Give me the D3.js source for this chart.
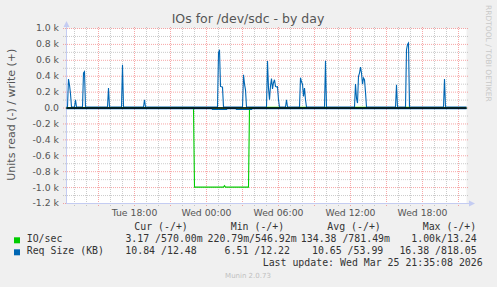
<!DOCTYPE html>
<html>
<head>
<meta charset="utf-8">
<script src="https://cdn.jsdelivr.net/npm/d3@7"></script>
<style>
  body { margin: 0; background: #f0f0f0; }
  svg { display: block; }
</style>
</head>
<body>
<div id="chart"></div>
<script>
// Data (5 minute samples, only the points that matter)
const reqWrite = [
  ["Tue 12:20", 13], ["Tue 12:25", 13], ["Tue 12:30", 365], ["Tue 12:35", 290], ["Tue 12:40", 180], ["Tue 12:45", 13],
  ["Tue 13:00", 13], ["Tue 13:05", 104], ["Tue 13:10", 13],
  ["Tue 13:40", 13], ["Tue 13:45", 440], ["Tue 13:50", 457], ["Tue 13:55", 13],
  ["Tue 15:45", 13], ["Tue 15:50", 252], ["Tue 15:55", 13],
  ["Tue 16:55", 13], ["Tue 17:00", 545], ["Tue 17:05", 13],
  ["Tue 18:45", 13], ["Tue 18:50", 104], ["Tue 18:55", 13],
  ["Wed 00:55", 13], ["Wed 01:00", 690], ["Wed 01:05", 733], ["Wed 01:10", 272], ["Wed 01:15", 268], ["Wed 01:20", 262], ["Wed 01:25", 13],
  ["Wed 03:00", 13], ["Wed 03:05", 419], ["Wed 03:10", 300], ["Wed 03:15", 229], ["Wed 03:20", 13],
  ["Wed 05:00", 13], ["Wed 05:05", 590], ["Wed 05:10", 250], ["Wed 05:15", 104], ["Wed 05:20", 280], ["Wed 05:25", 370],
  ["Wed 05:30", 240], ["Wed 05:35", 320], ["Wed 05:40", 356], ["Wed 05:45", 272], ["Wed 05:50", 265], ["Wed 05:55", 268],
  ["Wed 06:00", 104], ["Wed 06:05", 13],
  ["Wed 06:35", 13], ["Wed 06:40", 104], ["Wed 06:45", 13],
  ["Wed 07:45", 13], ["Wed 07:50", 381], ["Wed 07:55", 330], ["Wed 08:00", 300], ["Wed 08:05", 146], ["Wed 08:10", 252],
  ["Wed 08:15", 104], ["Wed 08:20", 13],
  ["Wed 09:50", 13], ["Wed 09:55", 595], ["Wed 10:00", 13],
  ["Wed 12:20", 13], ["Wed 12:25", 302], ["Wed 12:30", 120], ["Wed 12:35", 63], ["Wed 12:40", 398], ["Wed 12:45", 440],
  ["Wed 12:50", 516], ["Wed 12:55", 440], ["Wed 13:00", 300], ["Wed 13:05", 377], ["Wed 13:10", 356], ["Wed 13:15", 200],
  ["Wed 13:20", 13],
  ["Wed 15:45", 13], ["Wed 15:50", 293], ["Wed 15:55", 13],
  ["Wed 16:35", 13], ["Wed 16:40", 733], ["Wed 16:45", 800], ["Wed 16:50", 818], ["Wed 16:55", 13],
  ["Wed 19:45", 13], ["Wed 19:50", 365], ["Wed 19:55", 13],
  ["Wed 21:40", 13],
];

const reqRead = [
  ["Tue 12:20", -7], ["Wed 00:25", -7], ["Wed 00:30", -18], ["Wed 01:40", -18], ["Wed 01:45", -7],
  ["Wed 02:25", -7], ["Wed 02:30", -18], ["Wed 03:45", -18], ["Wed 03:50", -7], ["Wed 21:40", -7],
];

const ioRead = [
  ["Tue 12:20", -1], ["Tue 22:55", -1], ["Tue 23:00", -994], ["Wed 01:25", -994], ["Wed 01:30", -977],
  ["Wed 01:35", -994], ["Wed 03:30", -994], ["Wed 03:35", -1], ["Wed 21:40", -3],
];

const ioWrite = [
  ["Tue 12:20", 1], ["Wed 04:55", 1], ["Wed 05:00", 10], ["Wed 06:05", 10], ["Wed 06:10", 1],
  ["Wed 07:40", 1], ["Wed 07:45", 10], ["Wed 08:20", 10], ["Wed 08:25", 1],
  ["Wed 09:45", 1], ["Wed 09:50", 10], ["Wed 10:00", 10], ["Wed 10:05", 1],
  ["Wed 12:15", 1], ["Wed 12:20", 10], ["Wed 13:20", 10], ["Wed 13:25", 1],
  ["Wed 16:30", 1], ["Wed 16:35", 10], ["Wed 16:55", 10], ["Wed 17:00", 1], ["Wed 21:40", 1],
];

const legendRows = ["IO/sec", "Req Size (KB)"];
const legendColors = ["#00cc00", "#0066b3"];
const legendHeads = ["Cur (-/+)", "Min (-/+)", "Avg (-/+)", "Max (-/+)"];
const legendVals = [
  ["3.17 /570.00m", "220.79m/546.92m", "134.38 /781.49m", "1.00k/13.24"],
  ["10.84 /12.48", "6.51 /12.22", "10.65 /53.99", "16.38 /818.05"],
];

const parseT = (s) => {
  let [day, hm] = s.split(" ");
  let [hh, mm] = hm.split(":").map(Number);
  return new Date(2026, 2, day === "Tue" ? 24 : 25, hh, mm);
};

let W = 497, H = 287;
let svg = d3.select("#chart").append("svg").attr("width", W).attr("height", H);

svg.append("rect").attr("width", W).attr("height", H).attr("fill", "#f0f0f0");

let x = d3.scaleTime()
  .domain([new Date(2026, 2, 24, 12, 20), new Date(2026, 2, 25, 21, 40)])
  .range([66, 466]);
let y = d3.scaleLinear().domain([-1200, 1000]).range([203, 28]);

// plot background
svg.append("rect").attr("x", 66.5).attr("y", 28.5).attr("width", 400).attr("height", 175).attr("fill", "#fff");

const sans = "DejaVu Sans, sans-serif";
const mono = "DejaVu Sans Mono, monospace";
const minorCol = "rgba(140,140,140,0.45)";
const majorCol = "rgba(240,80,80,0.5)";

// vertical grid (hourly grey, 3-hourly red)
let hours = x.ticks(d3.timeHour.every(1));
let vMinor = svg.append("g").attr("transform", "translate(0,206)")
  .call(d3.axisBottom(x).tickValues(hours.filter((d) => d.getHours() % 3 !== 0)).tickSize(-180).tickFormat(""));
let vMajor = svg.append("g").attr("transform", "translate(0,206)")
  .call(d3.axisBottom(x).tickValues(hours.filter((d) => d.getHours() % 3 === 0)).tickSize(-180).tickFormat(""));
vMinor.selectAll("line").attr("stroke", minorCol).attr("stroke-dasharray", "1,1");
vMajor.selectAll("line").attr("stroke", majorCol).attr("stroke-dasharray", "1,1");

// horizontal grid (0.1k grey, 0.2k red)
let hMinor = svg.append("g").attr("transform", "translate(63,0)")
  .call(d3.axisLeft(y).tickValues(d3.range(-1100, 1000, 200)).tickSize(-406).tickFormat(""));
let hMajor = svg.append("g").attr("transform", "translate(63,0)")
  .call(d3.axisLeft(y).tickValues(d3.range(-1200, 1001, 200)).tickSize(-406).tickFormat(""));
hMinor.selectAll("line").attr("stroke", minorCol).attr("stroke-dasharray", "1,1");
hMajor.selectAll("line").attr("stroke", majorCol).attr("stroke-dasharray", "1,1");
svg.selectAll(".domain").remove();

// axes lines + arrows
const axisCol = "#c4ccf2";
svg.append("line").attr("x1", 66.5).attr("x2", 66.5).attr("y1", 204).attr("y2", 25).attr("stroke", axisCol);
svg.append("line").attr("x1", 66).attr("x2", 470).attr("y1", 203.5).attr("y2", 203.5).attr("stroke", axisCol);
svg.append("path").attr("d", "M63.5,27 L69.5,27 L66.5,21 Z").attr("fill", axisCol);
svg.append("path").attr("d", "M469,200.5 L469,206.5 L475,203.5 Z").attr("fill", axisCol);

// y tick labels
let yAxis = svg.append("g").attr("transform", "translate(66,0)")
  .call(d3.axisLeft(y).tickValues(d3.range(-1200, 1001, 200)).tickSize(0).tickPadding(7)
    .tickFormat((d) => (d === 0 ? "0.0" : (d / 1000).toFixed(1) + " k")));
yAxis.select(".domain").remove();
yAxis.selectAll("text").style("font-family", sans).style("font-size", "9.3px").attr("fill", "#555");

// x tick labels
let xAxis = svg.append("g").attr("transform", "translate(0,203)")
  .call(d3.axisBottom(x).ticks(d3.timeHour.every(6)).tickSize(0).tickPadding(6.4)
    .tickFormat(d3.timeFormat("%a %H:%M")));
xAxis.select(".domain").remove();
xAxis.selectAll("text").style("font-family", sans).style("font-size", "9.3px").attr("fill", "#555");

// series
let line = d3.line().x((d) => x(parseT(d[0]))).y((d) => y(d[1]));
let plot = svg.append("g").attr("transform", "translate(0.5,0.5)");
[[ioRead, "#00cc00"], [ioWrite, "#00cc00"], [reqRead, "#0066b3"], [reqWrite, "#0066b3"]].forEach(([data, col]) => {
  plot.append("path").attr("d", line(data)).attr("fill", "none").attr("stroke", col).attr("stroke-width", 1.1);
});

// zero line
svg.append("line").attr("x1", 66.5).attr("x2", 466.5).attr("y1", y(0) + 0.5).attr("y2", y(0) + 0.5)
  .attr("stroke", "#000").attr("stroke-width", 1.5);

// title
svg.append("text").attr("x", 248).attr("y", 23).attr("text-anchor", "middle")
  .style("font-family", sans).style("font-size", "12.5px").attr("fill", "#555")
  .text("IOs for /dev/sdc - by day");

// y axis title
svg.append("text").attr("transform", "translate(15,114.7) rotate(-90)").attr("text-anchor", "middle")
  .style("font-family", sans).style("font-size", "11px").attr("fill", "#555")
  .text("Units read (-) / write (+)");

// watermark
svg.append("text").attr("transform", "translate(485.5,5) rotate(90)")
  .style("font-family", sans).style("font-size", "7.5px").attr("fill", "#c8c8c8")
  .text("RRDTOOL / TOBI OETIKER");

// legend
let headX = [134.3, 230.7, 327.3, 422.7];
let endX = [[202.7, 296.7, 390, 476.7], [196.7, 290, 383.3, 476.7]];
let rowY = [242.3, 254.3];

let leg = svg.append("g").style("font-family", mono).style("font-size", "9.9px").attr("fill", "#333");
legendHeads.forEach((h, i) => leg.append("text").attr("x", headX[i]).attr("y", 230).text(h));
legendRows.forEach((name, r) => {
  svg.append("rect").attr("x", 14).attr("y", rowY[r] - 5).attr("width", 6).attr("height", 6).attr("fill", legendColors[r]);
  leg.append("text").attr("x", 26.7).attr("y", rowY[r]).text(name);
  legendVals[r].forEach((v, c) => {
    leg.append("text").attr("x", endX[r][c]).attr("y", rowY[r]).attr("text-anchor", "end").text(v);
  });
});
leg.append("text").attr("x", 482.7).attr("y", 266).attr("text-anchor", "end")
  .text("Last update: Wed Mar 25 21:35:08 2026");

svg.append("text").attr("x", 248).attr("y", 278).attr("text-anchor", "middle")
  .style("font-family", sans).style("font-size", "7px").attr("fill", "#c0c0c0")
  .text("Munin 2.0.73");
</script>
</body>
</html>
